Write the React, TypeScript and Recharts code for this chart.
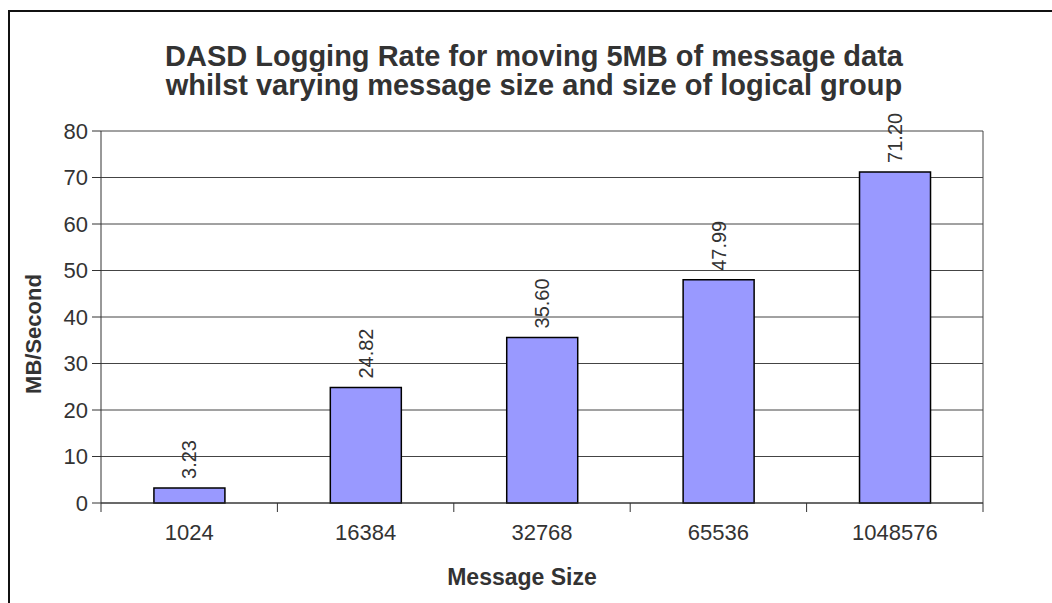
import React from 'react'
import { BarChart, Bar, XAxis, YAxis, CartesianGrid, LabelList, Label } from 'recharts'

// message sizes (bytes) and logging rate in MB/s
const messageSizes = ['1024', '16384', '32768', '65536', '1048576']
const loggingRates = [3.23, 24.82, 35.6, 47.99, 71.2]
const yTicks = [0, 10, 20, 30, 40, 50, 60, 70, 80]

const titleLines = [
    'DASD Logging Rate for moving 5MB of message data',
    'whilst varying message size and size of logical group',
]

const FONT = '"Liberation Sans", Arial, sans-serif'
const INK = '#333333'

const data = messageSizes.map((size, i) => ({ size, rate: loggingRates[i] }))

// category ticks sit on the band boundaries, labels in the middle
const XTick = (props: any) => {
    const { x, y, payload, index } = props
    const half = payload && payload.offset ? payload.offset : 88
    const last = index === messageSizes.length - 1
    return (
        <g>
            <line x1={x - half} x2={x - half} y1={y - 9} y2={y} stroke={INK} />
            {last && <line x1={x + half} x2={x + half} y1={y - 9} y2={y} stroke={INK} />}
            <text x={x} y={y + 28} textAnchor="middle" fill={INK} fontSize={22} fontFamily={FONT}>
                {payload.value}
            </text>
        </g>
    )
}

const ValueLabel = (props: any) => {
    const { x, y, width, value } = props
    const cx = x + width / 2
    const cy = y - 9
    return (
        <text
            x={cx}
            y={cy}
            transform={`rotate(-90 ${cx} ${cy})`}
            textAnchor="start"
            dominantBaseline="central"
            fill={INK}
            fontSize={20}
            fontFamily={FONT}
        >
            {Number(value).toFixed(2)}
        </text>
    )
}

const App = () => {
    return (
        <div style={{ position: 'absolute', left: 0, top: 0, width: 1052, height: 603, background: '#fff', overflow: 'hidden' }}>
            {/* outer frame (only top and left edges are visible) */}
            <div style={{ position: 'absolute', left: 8, top: 10, width: 1060, height: 620, borderTop: '2px solid #111', borderLeft: '2px solid #111' }} />

            {/* Title */}
            <div style={{ position: 'absolute', left: 534, top: 42, transform: 'translateX(-50%)', whiteSpace: 'nowrap', textAlign: 'center', fontFamily: FONT, fontWeight: 'bold', fontSize: 29, lineHeight: '29px', color: INK }}>
                {titleLines.map((t, i) => <div key={i}>{t}</div>)}
            </div>

            <div style={{ position: 'absolute', left: 0, top: 0 }}>
                <BarChart width={1052} height={603} data={data} margin={{ top: 131, right: 69, bottom: 0, left: 0 }} barCategoryGap="30%">
                    <CartesianGrid
                        stroke="#444"
                        vertical={true}
                        verticalCoordinatesGenerator={({ offset }: any) => [offset.left + offset.width]}
                    />
                    <XAxis
                        dataKey="size"
                        height={100}
                        tickLine={false}
                        tickSize={9}
                        tickMargin={0}
                        axisLine={{ stroke: INK }}
                        tick={<XTick />}
                        interval={0}
                    >
                        <Label
                            content={({ viewBox }: any) => (
                                <text x={viewBox.x + viewBox.width / 2 - 20} y={585} textAnchor="middle" fill={INK} fontSize={23} fontWeight="bold" fontFamily={FONT}>
                                    Message Size
                                </text>
                            )}
                        />
                    </XAxis>
                    <YAxis
                        width={101}
                        domain={[0, 80]}
                        ticks={yTicks}
                        interval={0}
                        tickSize={9}
                        tickMargin={4}
                        axisLine={{ stroke: INK }}
                        tickLine={{ stroke: INK }}
                        tick={{ fill: INK, fontSize: 22, fontFamily: FONT }}
                    >
                        <Label
                            content={({ viewBox }: any) => {
                                const cx = 33
                                const cy = viewBox.y + viewBox.height / 2 + 17
                                return (
                                    <text x={cx} y={cy} transform={`rotate(-90 ${cx} ${cy})`} textAnchor="middle" dominantBaseline="central" fill={INK} fontSize={22} fontWeight="bold" fontFamily={FONT}>
                                        MB/Second
                                    </text>
                                )
                            }}
                        />
                    </YAxis>
                    <Bar dataKey="rate" fill="#9999ff" stroke="#000" strokeWidth={1.5} isAnimationActive={false}>
                        <LabelList dataKey="rate" content={<ValueLabel />} />
                    </Bar>
                </BarChart>
            </div>
        </div>
    )
}

export default App
